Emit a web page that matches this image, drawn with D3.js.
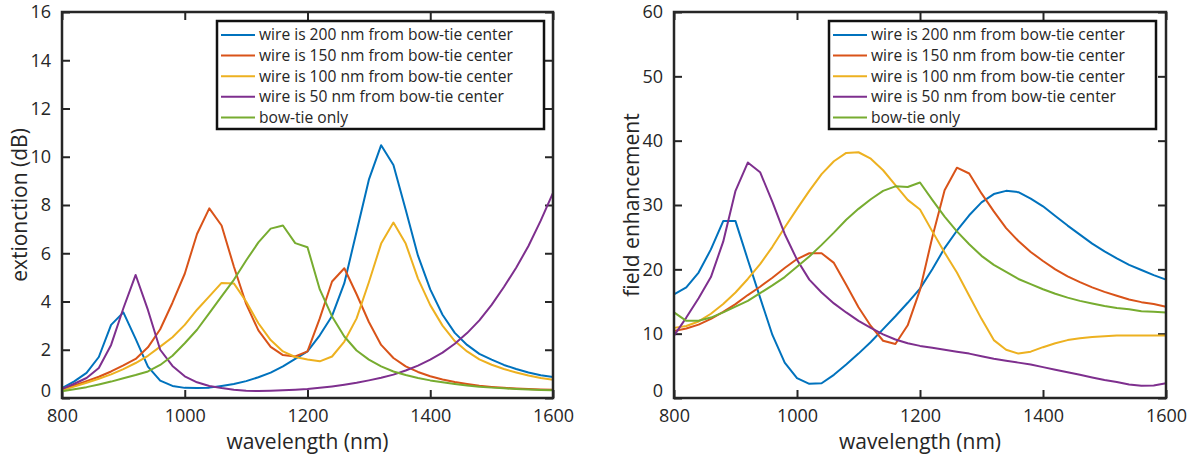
<!DOCTYPE html>
<html>
<head>
<meta charset="utf-8">
<script src="https://cdn.jsdelivr.net/npm/d3@7"></script>
<style>
  body { margin: 0; background: #fff; }
  text { font-family: "Open Sans", "DejaVu Sans", sans-serif; fill: #262626; }
</style>
</head>
<body>
<svg id="chart" width="1195" height="456"></svg>
<script>
// wavelengths (nm), sampled every 20 nm
var wavelengths = [800, 820, 840, 860, 880, 900, 920, 940, 960, 980,
  1000, 1020, 1040, 1060, 1080, 1100, 1120, 1140, 1160, 1180,
  1200, 1220, 1240, 1260, 1280, 1300, 1320, 1340, 1360, 1380,
  1400, 1420, 1440, 1460, 1480, 1500, 1520, 1540, 1560, 1580, 1600];

var seriesNames = [
  "wire is 200 nm from bow-tie center",
  "wire is 150 nm from bow-tie center",
  "wire is 100 nm from bow-tie center",
  "wire is 50 nm from bow-tie center",
  "bow-tie only"
];

// extinction (dB)
var ext200 = [0.41, 0.69, 1.04, 1.7, 3.03, 3.55, 2.45, 1.3, 0.72, 0.5,
  0.42, 0.41, 0.43, 0.5, 0.58, 0.7, 0.86, 1.05, 1.31, 1.62,
  1.93, 2.6, 3.4, 4.76, 6.9, 9.05, 10.48, 9.66, 7.8, 5.9,
  4.5, 3.45, 2.7, 2.2, 1.83, 1.59, 1.37, 1.2, 1.06, 0.94, 0.87];
var ext150 = [0.38, 0.52, 0.7, 0.88, 1.1, 1.35, 1.62, 2.1, 2.85, 3.95,
  5.15, 6.8, 7.86, 7.15, 5.45, 3.9, 2.8, 2.12, 1.78, 1.72,
  1.93, 3.3, 4.83, 5.38, 4.3, 3.15, 2.2, 1.66, 1.31, 1.08,
  0.9, 0.77, 0.66, 0.58, 0.51, 0.46, 0.42, 0.39, 0.37, 0.35, 0.34];
var ext100 = [0.32, 0.47, 0.63, 0.8, 0.98, 1.2, 1.45, 1.75, 2.13, 2.52,
  3.03, 3.66, 4.21, 4.77, 4.75, 4.0, 3.1, 2.4, 1.93, 1.7,
  1.6, 1.52, 1.72, 2.34, 3.3, 4.8, 6.4, 7.27, 6.4, 4.95,
  3.85, 3.0, 2.36, 1.93, 1.6, 1.38, 1.2, 1.06, 0.93, 0.83, 0.76];
var ext50 = [0.37, 0.59, 0.83, 1.24, 2.2, 3.72, 5.1, 3.65, 2.0, 1.33,
  0.9, 0.65, 0.5, 0.41, 0.34, 0.3, 0.29, 0.3, 0.32, 0.34,
  0.37, 0.42, 0.48, 0.55, 0.63, 0.73, 0.84, 0.97, 1.14, 1.34,
  1.59, 1.88, 2.25, 2.69, 3.22, 3.86, 4.6, 5.4, 6.3, 7.35, 8.5];
var extBowtie = [0.28, 0.36, 0.45, 0.56, 0.68, 0.82, 0.95, 1.1, 1.37, 1.75,
  2.27, 2.83, 3.52, 4.21, 4.9, 5.7, 6.45, 7.02, 7.15, 6.42,
  6.25, 4.5, 3.38, 2.55, 1.97, 1.59, 1.31, 1.1, 0.95, 0.83,
  0.73, 0.65, 0.58, 0.52, 0.47, 0.43, 0.4, 0.37, 0.35, 0.33, 0.32];

// field enhancement
var fe200 = [16.1, 17.2, 19.5, 23.1, 27.5, 27.5, 21.5, 15.6, 9.8, 5.5,
  3.1, 2.2, 2.3, 3.6, 5.2, 6.9, 8.7, 10.7, 12.7, 14.8,
  17.0, 20.0, 23.3, 26.0, 28.4, 30.4, 31.7, 32.2, 32.0, 31.0,
  29.8, 28.3, 26.8, 25.4, 24.0, 22.8, 21.7, 20.7, 19.9, 19.1, 18.4];
var fe150 = [10.4, 10.8, 11.4, 12.3, 13.4, 14.6, 16.0, 17.3, 18.7, 20.2,
  21.6, 22.5, 22.5, 21.0, 17.6, 14.1, 11.2, 8.9, 8.4, 11.3,
  16.8, 25.0, 32.3, 35.8, 34.9, 31.8, 29.0, 26.4, 24.4, 22.7,
  21.3, 20.0, 18.9, 18.0, 17.2, 16.5, 15.9, 15.3, 14.9, 14.6, 14.2];
var fe100 = [10.9, 11.2, 11.9, 13.1, 14.6, 16.4, 18.5, 20.8, 23.5, 26.5,
  29.4, 32.2, 34.8, 36.8, 38.1, 38.2, 37.2, 35.4, 33.1, 30.8,
  29.3, 25.9, 22.6, 19.5, 15.9, 12.3, 9.0, 7.5, 6.9, 7.2,
  7.9, 8.5, 9.0, 9.3, 9.5, 9.6, 9.7, 9.7, 9.7, 9.7, 9.7];
var fe50 = [9.7, 12.5, 15.5, 18.8, 24.3, 32.2, 36.6, 35.1, 30.5, 25.5,
  21.5, 18.4, 16.4, 14.7, 13.3, 12.0, 10.9, 9.9, 9.1, 8.5,
  8.1, 7.8, 7.5, 7.2, 6.9, 6.5, 6.1, 5.8, 5.5, 5.2,
  4.8, 4.4, 4.0, 3.6, 3.2, 2.8, 2.5, 2.1, 1.9, 1.95, 2.3];
var feBowtie = [13.3, 12.0, 12.0, 12.5, 13.3, 14.2, 15.1, 16.3, 17.5, 18.8,
  20.4, 22.0, 23.8, 25.7, 27.7, 29.4, 30.9, 32.2, 32.9, 32.8,
  33.5, 30.8, 28.2, 25.9, 23.9, 22.1, 20.7, 19.6, 18.5, 17.7,
  16.9, 16.2, 15.6, 15.1, 14.7, 14.3, 14.0, 13.8, 13.5, 13.4, 13.3];

var xTicks = [800, 1000, 1200, 1400, 1600];
var extTicks = [0, 2, 4, 6, 8, 10, 12, 14, 16];
var feTicks = [0, 10, 20, 30, 40, 50, 60];

var colors = ["#0072BD", "#D95319", "#EDB120", "#7E2F8E", "#77AC30"];

var svg = d3.select("#chart");

function drawPanel(p) {
  var x = d3.scaleLinear().domain([800, 1600]).range([p.left, p.right]);
  var y = d3.scaleLinear().domain([p.yTicks[0], p.yTicks[p.yTicks.length - 1]])
    .range([p.bottom, p.top]);
  var g = svg.append("g");
  var tickLen = 8;
  var fmt = d3.format("d");

  // axes (ticks pointing inward, mirrored on top/right)
  var axB = d3.axisBottom(x).tickValues(xTicks).tickFormat(fmt).tickSizeInner(-tickLen).tickSizeOuter(0).tickPadding(11);
  var axT = d3.axisTop(x).tickValues(xTicks).tickSizeInner(-tickLen).tickSizeOuter(0).tickFormat("");
  var axL = d3.axisLeft(y).tickValues(p.yTicks).tickFormat(fmt).tickSizeInner(-tickLen).tickSizeOuter(0).tickPadding(11);
  var axR = d3.axisRight(y).tickValues(p.yTicks).tickSizeInner(-tickLen).tickSizeOuter(0).tickFormat("");

  [[axB, "translate(0," + p.bottom + ")"], [axT, "translate(0," + p.top + ")"],
   [axL, "translate(" + p.left + ",0)"], [axR, "translate(" + p.right + ",0)"]].forEach(function(a, k) {
    var ga = g.append("g").attr("transform", a[1]).call(a[0]);
    ga.select(".domain").remove();
    ga.selectAll("line").attr("stroke", "#262626").attr("stroke-width", 2);
    ga.selectAll("text").style("font-size", "18px").attr("fill", "#262626")
      .style("font-family", "'Open Sans', sans-serif");
    // the "0" sits a bit above the corner, clear of the "800" below it
    if (k === 2) ga.selectAll("text").filter(function(d) { return d === 0; }).attr("y", -7);
  });

  var line = d3.line()
    .x(function(d) { return x(d[0]); })
    .y(function(d) { return y(d[1]); });

  p.series.forEach(function(s, i) {
    g.append("path")
      .datum(wavelengths.map(function(w, j) { return [w, s[j]]; }))
      .attr("fill", "none")
      .attr("stroke", colors[i])
      .attr("stroke-width", 2)
      .attr("stroke-linejoin", "round")
      .attr("d", line);
  });

  // box
  g.append("rect")
    .attr("x", p.left).attr("y", p.top)
    .attr("width", p.right - p.left).attr("height", p.bottom - p.top)
    .attr("fill", "none").attr("stroke", "#262626").attr("stroke-width", 2.5);

  // legend
  var lg = g.append("g").attr("transform", "translate(" + p.legendX + "," + p.legendY + ")");
  lg.append("rect")
    .attr("width", 327).attr("height", 108)
    .attr("fill", "#fff").attr("stroke", "#111").attr("stroke-width", 2.5);
  seriesNames.forEach(function(name, i) {
    var ry = 14 + i * 20.6;
    lg.append("line")
      .attr("x1", 4).attr("x2", 38).attr("y1", ry).attr("y2", ry)
      .attr("stroke", colors[i]).attr("stroke-width", 2);
    lg.append("text")
      .attr("x", 42).attr("y", ry)
      .attr("dy", "0.35em")
      .style("font-size", "15.6px")
      .text(name);
  });

  // axis titles
  g.append("text")
    .attr("x", (p.left + p.right) / 2).attr("y", 449)
    .attr("text-anchor", "middle")
    .style("font-size", "21px")
    .text("wavelength (nm)");
  g.append("text")
    .attr("transform", "translate(" + (p.left - 35) + "," + ((p.top + p.bottom) / 2) + ") rotate(-90)")
    .attr("text-anchor", "middle")
    .style("font-size", "21px")
    .text(p.yLabel);
}

drawPanel({
  left: 62, right: 553, top: 12, bottom: 398,
  yTicks: extTicks, yLabel: "extionction (dB)",
  series: [ext200, ext150, ext100, ext50, extBowtie],
  legendX: 217, legendY: 21
});

drawPanel({
  left: 674, right: 1166, top: 12, bottom: 398,
  yTicks: feTicks, yLabel: "field enhancement",
  series: [fe200, fe150, fe100, fe50, feBowtie],
  legendX: 829, legendY: 21
});
</script>
</body>
</html>
